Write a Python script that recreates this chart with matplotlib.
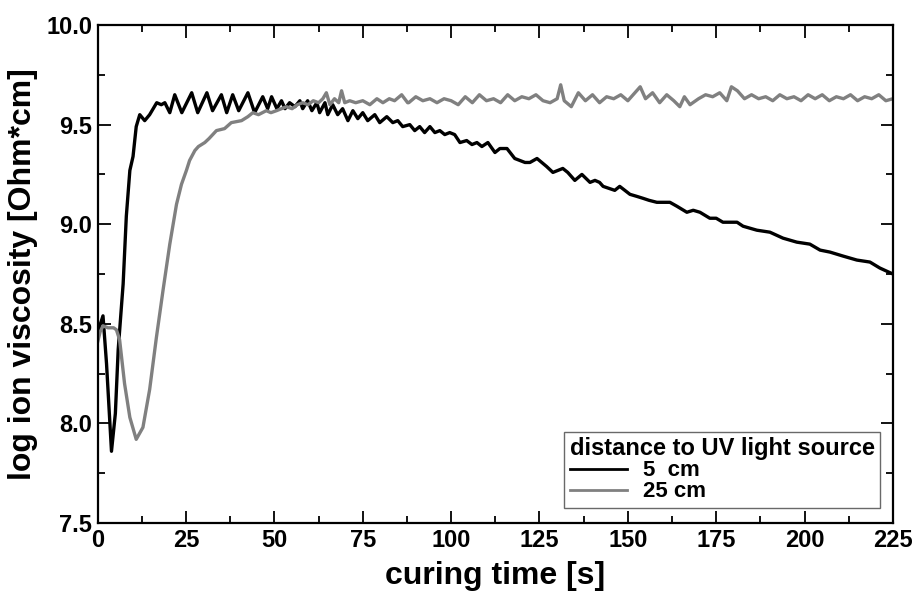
import numpy as np
import matplotlib.pyplot as plt
from matplotlib.ticker import MultipleLocator

# 5 cm distance (black)
t_5cm = [0, 0.6, 1.5, 2.5, 3.9, 5, 5.8, 7.2, 8.1, 9.1, 10, 10.9, 11.9, 13.3, 14.7,
         16.7, 18, 19, 20.4, 21.8, 23.8, 26.6, 28.3, 30.9, 32.5, 35, 36.5, 38.2,
         39.9, 42.5, 44.4, 46.7, 48.1, 49.2, 50.7, 52, 53, 54.3, 55.8, 57.2, 58,
         59.4, 60.6, 62, 62.8, 64.3, 65.1, 66.5, 67.9, 69.3, 70.8, 72.2, 73.6, 75,
         76.4, 78.4, 79.8, 81.8, 83.5, 84.9, 86.3, 88.3, 89.7, 91.1, 92.5, 94,
         95.4, 96.8, 98.2, 99.6, 101, 102.5, 104.4, 105.9, 107.3, 108.7, 110.4,
         112.4, 113.8, 115.8, 118, 120.9, 122.3, 124.3, 127, 128.8, 131.6, 133,
         135, 137, 139.3, 140.7, 142, 143, 146.3, 147.7, 150.6, 152.5, 154.3, 156,
         158.2, 160, 161.9, 163.9, 166.7, 168.5, 170.4, 173.2, 175, 176.9, 180.9,
         182.6, 186.5, 190.2, 193.9, 197.8, 201.5, 204.4, 207.2, 210.9, 214.8,
         218.5, 221.3, 225]
v_5cm = [8.45, 8.49, 8.54, 8.30, 7.86, 8.05, 8.37, 8.70, 9.04, 9.27, 9.34, 9.49,
         9.55, 9.52, 9.55, 9.61, 9.60, 9.61, 9.56, 9.65, 9.56, 9.66, 9.56, 9.66,
         9.57, 9.65, 9.56, 9.65, 9.57, 9.66, 9.56, 9.64, 9.58, 9.64, 9.58, 9.62,
         9.58, 9.61, 9.59, 9.62, 9.58, 9.62, 9.57, 9.61, 9.56, 9.61, 9.55, 9.60,
         9.55, 9.58, 9.52, 9.57, 9.53, 9.56, 9.52, 9.55, 9.51, 9.54, 9.51, 9.52,
         9.49, 9.50, 9.47, 9.49, 9.46, 9.49, 9.46, 9.47, 9.45, 9.46, 9.45, 9.41,
         9.42, 9.40, 9.41, 9.39, 9.41, 9.36, 9.38, 9.38, 9.33, 9.31, 9.31, 9.33,
         9.29, 9.26, 9.28, 9.26, 9.22, 9.25, 9.21, 9.22, 9.21, 9.19, 9.17, 9.19,
         9.15, 9.14, 9.13, 9.12, 9.11, 9.11, 9.11, 9.09, 9.06, 9.07, 9.06, 9.03,
         9.03, 9.01, 9.01, 8.99, 8.97, 8.96, 8.93, 8.91, 8.90, 8.87, 8.86, 8.84,
         8.82, 8.81, 8.78, 8.75]

# 25 cm distance (grey)
t_25cm = [0, 0.7, 1.5, 2.9, 4.5, 5.3, 6.2, 7.6, 9.1, 10.9, 12.8, 14.7, 16.6, 18.5,
          20.4, 22.3, 23.7, 25.1, 26, 27.5, 28.5, 30.3, 31.5, 33.6, 35.9, 37.8,
          40.7, 42.5, 43.9, 45.5, 47.7, 49, 50.6, 52, 53.4, 55, 56.5, 58, 59.5,
          61, 62.5, 63.7, 64.7, 65.7, 67, 68.2, 69, 69.9, 71.3, 73, 75, 77, 79,
          80.7, 82.5, 84, 86, 87.7, 88, 90, 92, 94, 96, 98, 100, 102, 104, 106,
          108, 110, 112, 114, 116, 118, 120, 122, 124, 126, 128, 130, 131, 132,
          134, 136, 138, 140, 142, 144, 146, 148, 150, 152, 153.5, 155, 157, 159,
          161, 163, 164.7, 166, 167.6, 170, 172, 174, 176, 178, 179.3, 181, 183,
          185, 187, 189, 191, 193, 195, 197, 199, 201, 203, 205, 207, 209, 211,
          213, 215, 217, 219, 221, 223, 225]
v_25cm = [8.41, 8.46, 8.49, 8.48, 8.48, 8.47, 8.42, 8.20, 8.03, 7.92, 7.98, 8.17,
          8.43, 8.67, 8.90, 9.10, 9.20, 9.27, 9.32, 9.37, 9.39, 9.41, 9.43, 9.47,
          9.48, 9.51, 9.52, 9.54, 9.56, 9.55, 9.57, 9.56, 9.57, 9.58, 9.59, 9.58,
          9.60, 9.61, 9.60, 9.62, 9.61, 9.63, 9.66, 9.60, 9.63, 9.61, 9.67, 9.61,
          9.62, 9.61, 9.62, 9.60, 9.63, 9.61, 9.63, 9.62, 9.65, 9.61, 9.61, 9.64,
          9.62, 9.63, 9.61, 9.63, 9.62, 9.60, 9.64, 9.61, 9.65, 9.62, 9.63, 9.61,
          9.65, 9.62, 9.64, 9.63, 9.65, 9.62, 9.61, 9.63, 9.70, 9.62, 9.59, 9.66,
          9.62, 9.65, 9.61, 9.64, 9.63, 9.65, 9.62, 9.66, 9.69, 9.63, 9.66, 9.61,
          9.65, 9.62, 9.59, 9.64, 9.60, 9.63, 9.65, 9.64, 9.66, 9.62, 9.69, 9.67,
          9.63, 9.65, 9.63, 9.64, 9.62, 9.65, 9.63, 9.64, 9.62, 9.65, 9.63, 9.65,
          9.62, 9.64, 9.63, 9.65, 9.62, 9.64, 9.63, 9.65, 9.62, 9.63]

plt.rcParams['font.family'] = ['Liberation Sans', 'DejaVu Sans']
plt.rcParams['font.weight'] = 'bold'

fig = plt.figure(figsize=(9.13, 5.96), dpi=100)
ax = fig.add_axes([0.107, 0.1225, 0.871, 0.8355])

ax.plot(t_5cm, v_5cm, color='black', linewidth=2.4, label='5  cm')
ax.plot(t_25cm, v_25cm, color='#808080', linewidth=2.4, label='25 cm')

ax.set_xlim(0, 225)
ax.set_ylim(7.5, 10.0)
ax.xaxis.set_major_locator(MultipleLocator(25))
ax.xaxis.set_minor_locator(MultipleLocator(12.5))
ax.yaxis.set_major_locator(MultipleLocator(0.5))
ax.yaxis.set_minor_locator(MultipleLocator(0.25))
ax.tick_params(which='both', direction='in', top=True, right=True, width=1.3)
ax.tick_params(which='major', length=9, labelsize=17, pad=4)
ax.tick_params(which='minor', length=5)
for lbl in ax.get_xticklabels() + ax.get_yticklabels():
    lbl.set_fontweight('bold')
for s in ax.spines.values():
    s.set_linewidth(1.6)

ax.set_xlabel('curing time [s]', fontsize=23, fontweight='bold', labelpad=7)
ax.set_ylabel('log ion viscosity [Ohm*cm]', fontsize=23, fontweight='bold', labelpad=6)

leg = ax.legend(title='distance to UV light source', loc='lower right',
                bbox_to_anchor=(0.984, 0.03), borderaxespad=0,
                fontsize=16, title_fontsize=17,
                frameon=True, fancybox=False, edgecolor='#444444',
                handlelength=2.6, handletextpad=0.7, labelspacing=0.0,
                borderpad=0.25, alignment='left')
leg.get_frame().set_linewidth(1.0)
leg.get_title().set_fontweight('bold')
for txt in leg.get_texts():
    txt.set_fontweight('bold')
for ln in leg.get_lines():
    ln.set_linewidth(2.0)

fig.savefig('out.png', dpi=100)
